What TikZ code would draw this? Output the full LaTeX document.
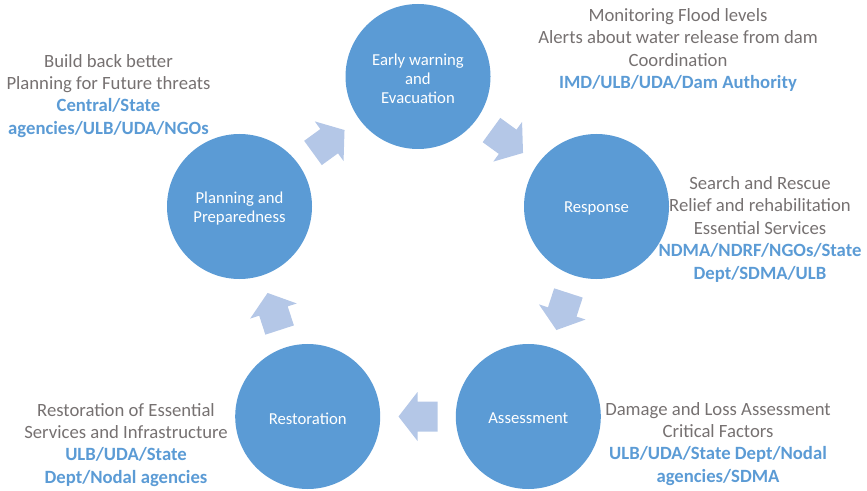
\documentclass[tikz,border=0pt]{standalone}
\usepackage{fontspec}
\setmainfont{Carlito}
\definecolor{circ}{HTML}{5B9BD5}
\definecolor{arr}{HTML}{B4C7E7}
\definecolor{gtxt}{HTML}{767171}
\newcommand\agency[1]{\textcolor{circ}{\bfseries #1}}
\begin{document}
\begin{tikzpicture}[x=1bp,y=-1bp,
  phase/.style={circle,fill=circ,minimum size=145bp,inner sep=0pt},
  ptext/.style={text=white,align=center,inner sep=0pt,yshift=-2bp,
    font=\fontsize{16.7bp}{18.8bp}\selectfont},
  info/.style={align=center,text=gtxt,inner sep=0pt,font=\fontsize{18.7bp}{22.4bp}\selectfont},
  blockarrow/.style={fill=arr}
]
\useasboundingbox (0,0) rectangle (867,491);
\node[phase,label={[ptext]center:{Early warning\\and\\Evacuation}}] (ew) at (418,76.5) {};
\node[phase,label={[ptext]center:{Response}}] (resp) at (596.5,206.5) {};
\node[phase,label={[ptext]center:{Assessment}}] (ass) at (528.3,416.5) {};
\node[phase,label={[ptext]center:{Restoration}}] (rest) at (307.7,416.5) {};
\node[phase,label={[ptext]center:{Planning and\\Preparedness}}] (plan) at (239.5,206.5) {};

\foreach \a/\b/\ang in {ew/resp/-36, resp/ass/-108, ass/rest/180, rest/plan/108, plan/ew/36}{
  \path (\a.center) -- (\b.center) coordinate[midway] (m-\a);
  \fill[blockarrow, shift={(m-\a)}, rotate=\ang]
    (-19.5,-15) -- (0.5,-15) -- (0.5,-24.5) -- (19.5,0) -- (0.5,24.5) -- (0.5,15) -- (-19.5,15) -- cycle;
}

\node[info] (tEW) at (678,50) {Monitoring Flood levels\\Alerts about water release from dam\\Coordination\\\agency{IMD/ULB/UDA/Dam Authority}};
\node[info] (tPlan) at (108.5,95.7) {Build back better\\Planning for Future threats\\\agency{Central/State}\\\agency{agencies/ULB/UDA/NGOs}};
\node[info] (tResp) at (760,229.2) {Search and Rescue\\Relief and rehabilitation\\Essential Services\\\agency{NDMA/NDRF/NGOs/State}\\\agency{Dept/SDMA/ULB}};
\node[info] (tRest) at (126,444.7) {Restoration of Essential\\Services and Infrastructure\\\agency{ULB/UDA/State}\\\agency{Dept/Nodal agencies}};
\node[info] (tAss) at (718,443.7) {Damage and Loss Assessment\\Critical Factors\\\agency{ULB/UDA/State Dept/Nodal}\\\agency{agencies/SDMA}};
\end{tikzpicture}
\end{document}
